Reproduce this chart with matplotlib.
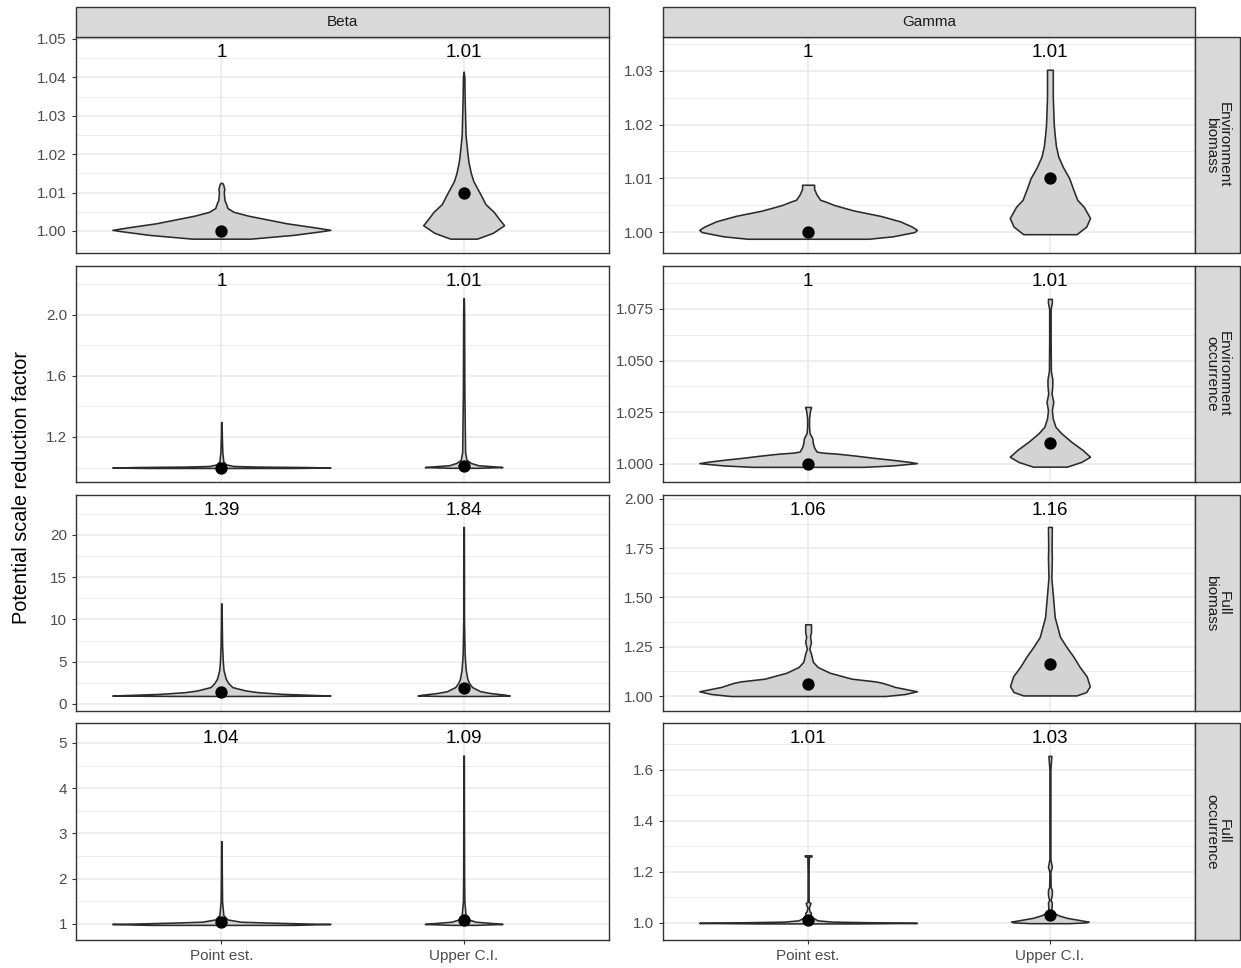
import matplotlib
matplotlib.use("Agg")
import matplotlib.pyplot as plt
import matplotlib.transforms as mtransforms
from matplotlib.patches import Rectangle

plt.rcParams['font.family'] = ['Liberation Sans', 'DejaVu Sans']

W, H = 1241, 968

columns = ["Beta", "Gamma"]
rows = ["Environment\nbiomass", "Environment\noccurrence", "Full\nbiomass", "Full\noccurrence"]
categories = ["Point est.", "Upper C.I."]

# median value (dot) and printed label per panel: [point est., upper C.I.]
beta_medians = [[1.000, 1.010], [1.00, 1.01], [1.39, 1.84], [1.04, 1.09]]
gamma_medians = [[1.000, 1.010], [1.000, 1.010], [1.06, 1.16], [1.01, 1.03]]
beta_labels = [["1", "1.01"], ["1", "1.01"], ["1.39", "1.84"], ["1.04", "1.09"]]
gamma_labels = [["1", "1.01"], ["1", "1.01"], ["1.06", "1.16"], ["1.01", "1.03"]]

# violin outlines: y levels and half-widths (category units)
beta_envbio_pt_y = [0.998, 0.999, 1.000, 1.0003, 1.001, 1.002, 1.003, 1.004, 1.005, 1.006, 1.007, 1.008, 1.010, 1.011, 1.012, 1.0125]
beta_envbio_pt_w = [0.12, 0.30, 0.42, 0.45, 0.38, 0.27, 0.19, 0.11, 0.05, 0.025, 0.02, 0.013, 0.01, 0.012, 0.008, 0.004]
beta_envbio_up_y = [0.998, 0.9995, 1.0015, 1.003, 1.005, 1.007, 1.009, 1.011, 1.013, 1.015, 1.018, 1.020, 1.025, 1.030, 1.035, 1.040, 1.0415]
beta_envbio_up_w = [0.055, 0.12, 0.167, 0.148, 0.124, 0.09, 0.074, 0.057, 0.04, 0.03, 0.02, 0.016, 0.008, 0.006, 0.004, 0.003, 0.0]

gamma_envbio_pt_y = [0.99875, 0.9992, 1.000, 1.0004, 1.001, 1.002, 1.003, 1.004, 1.005, 1.0057, 1.006, 1.007, 1.008, 1.0088]
gamma_envbio_pt_w = [0.25, 0.35, 0.44, 0.45, 0.43, 0.38, 0.30, 0.19, 0.11, 0.07, 0.05, 0.035, 0.025, 0.025]
gamma_envbio_up_y = [0.9996, 1.001, 1.0026, 1.0047, 1.006, 1.008, 1.010, 1.012, 1.014, 1.016, 1.018, 1.020, 1.025, 1.030, 1.0302]
gamma_envbio_up_w = [0.11, 0.15, 0.166, 0.14, 0.113, 0.096, 0.08, 0.055, 0.035, 0.025, 0.02, 0.016, 0.012, 0.012, 0.012]

beta_envocc_pt_y = [0.997, 1.000, 1.003, 1.006, 1.010, 1.020, 1.040, 1.100, 1.200, 1.298]
beta_envocc_pt_w = [0.30, 0.45, 0.35, 0.15, 0.05, 0.02, 0.008, 0.004, 0.002, 0.001]
beta_envocc_up_y = [0.998, 1.003, 1.008, 1.015, 1.030, 1.050, 1.100, 1.500, 2.000, 2.110]
beta_envocc_up_w = [0.06, 0.16, 0.12, 0.06, 0.03, 0.012, 0.006, 0.003, 0.002, 0.001]

gamma_envocc_pt_y = [0.9986, 0.9993, 1.0004, 1.001, 1.002, 1.003, 1.004, 1.005, 1.0055, 1.006, 1.008, 1.010, 1.012, 1.013, 1.015, 1.018, 1.022, 1.026, 1.0272, 1.0276]
gamma_envocc_pt_w = [0.23, 0.35, 0.45, 0.42, 0.35, 0.27, 0.20, 0.12, 0.06, 0.035, 0.025, 0.02, 0.018, 0.015, 0.006, 0.004, 0.004, 0.008, 0.012, 0.012]
gamma_envocc_up_y = [0.9987, 1.001, 1.0035, 1.0068, 1.0108, 1.015, 1.018, 1.022, 1.026, 1.030, 1.034, 1.038, 1.041, 1.045, 1.060, 1.075, 1.078, 1.0799]
gamma_envocc_up_w = [0.07, 0.13, 0.166, 0.135, 0.088, 0.046, 0.023, 0.012, 0.008, 0.014, 0.007, 0.01, 0.01, 0.004, 0.003, 0.003, 0.008, 0.008]

beta_fullbio_pt_y = [0.95, 1.0, 1.05, 1.2, 1.4, 1.6, 2.0, 2.5, 3.0, 4.0, 5.0, 7.0, 9.0, 11.9]
beta_fullbio_pt_w = [0.2, 0.45, 0.4, 0.25, 0.15, 0.1, 0.045, 0.028, 0.018, 0.009, 0.006, 0.003, 0.002, 0.001]
beta_fullbio_up_y = [0.95, 1.0, 1.1, 1.3, 1.5, 2.0, 2.5, 3.0, 4.0, 5.0, 6.0, 7.5, 10.0, 15.0, 20.95]
beta_fullbio_up_w = [0.1, 0.19, 0.17, 0.11, 0.07, 0.035, 0.022, 0.015, 0.009, 0.006, 0.004, 0.003, 0.0015, 0.0015, 0.001]

gamma_fullbio_pt_y = [1.000, 1.010, 1.024, 1.046, 1.066, 1.074, 1.088, 1.118, 1.147, 1.173, 1.215, 1.240, 1.274, 1.300, 1.325, 1.350, 1.364]
gamma_fullbio_pt_w = [0.32, 0.40, 0.45, 0.36, 0.31, 0.28, 0.18, 0.09, 0.04, 0.02, 0.012, 0.005, 0.012, 0.008, 0.012, 0.012, 0.012]
gamma_fullbio_up_y = [1.003, 1.02, 1.05, 1.10, 1.15, 1.20, 1.25, 1.30, 1.40, 1.50, 1.60, 1.70, 1.75, 1.858]
gamma_fullbio_up_w = [0.11, 0.15, 0.165, 0.152, 0.122, 0.097, 0.068, 0.042, 0.02, 0.013, 0.006, 0.008, 0.007, 0.008]

beta_fullocc_pt_y = [0.98, 1.0, 1.01, 1.03, 1.05, 1.1, 1.2, 1.5, 2.0, 2.83]
beta_fullocc_pt_w = [0.3, 0.45, 0.35, 0.2, 0.08, 0.025, 0.008, 0.003, 0.002, 0.001]
beta_fullocc_up_y = [0.98, 1.0, 1.02, 1.05, 1.1, 1.2, 1.5, 2.0, 3.0, 4.72]
beta_fullocc_up_w = [0.05, 0.16, 0.12, 0.05, 0.02, 0.008, 0.003, 0.002, 0.0015, 0.001]

gamma_fullocc_pt_y = [0.998, 1.0, 1.002, 1.005, 1.01, 1.02, 1.03, 1.04, 1.045, 1.06, 1.078, 1.082, 1.1, 1.2, 1.259, 1.261, 1.265]
gamma_fullocc_pt_w = [0.2, 0.45, 0.3, 0.1, 0.04, 0.02, 0.01, 0.012, 0.006, 0.003, 0.01, 0.003, 0.002, 0.002, 0.003, 0.014, 0.014]
gamma_fullocc_up_y = [0.999, 1.002, 1.005, 1.01, 1.02, 1.03, 1.04, 1.05, 1.08, 1.09, 1.11, 1.13, 1.14, 1.2, 1.22, 1.25, 1.4, 1.6, 1.655]
gamma_fullocc_up_w = [0.08, 0.15, 0.16, 0.13, 0.07, 0.035, 0.015, 0.006, 0.008, 0.003, 0.008, 0.008, 0.003, 0.002, 0.008, 0.002, 0.002, 0.002, 0.006]

# y scales (free per panel)
beta_ylims = [(0.99427, 1.0505), (0.905, 2.321), (-0.83, 24.73), (0.646, 5.44)]
gamma_ylims = [(0.9961, 1.0363), (0.99128, 1.0958), (0.924, 2.02), (0.933, 1.784)]
beta_ticks = [[1.00, 1.01, 1.02, 1.03, 1.04, 1.05], [1.2, 1.6, 2.0], [0, 5, 10, 15, 20], [1, 2, 3, 4, 5]]
beta_ticklabels = [["1.00", "1.01", "1.02", "1.03", "1.04", "1.05"], ["1.2", "1.6", "2.0"],
                   ["0", "5", "10", "15", "20"], ["1", "2", "3", "4", "5"]]
beta_minor = [[0.995, 1.005, 1.015, 1.025, 1.035, 1.045], [1.0, 1.4, 1.8, 2.2],
              [2.5, 7.5, 12.5, 17.5, 22.5], [1.5, 2.5, 3.5, 4.5]]
gamma_ticks = [[1.00, 1.01, 1.02, 1.03], [1.000, 1.025, 1.050, 1.075], [1.00, 1.25, 1.50, 1.75, 2.00], [1.0, 1.2, 1.4, 1.6]]
gamma_ticklabels = [["1.00", "1.01", "1.02", "1.03"], ["1.000", "1.025", "1.050", "1.075"],
                    ["1.00", "1.25", "1.50", "1.75", "2.00"], ["1.0", "1.2", "1.4", "1.6"]]
gamma_minor = [[1.005, 1.015, 1.025, 1.035], [1.0125, 1.0375, 1.0625, 1.0875],
               [1.125, 1.375, 1.625, 1.875], [1.1, 1.3, 1.5, 1.7]]

violins = {
    "Beta": [
        [(beta_envbio_pt_y, beta_envbio_pt_w), (beta_envbio_up_y, beta_envbio_up_w)],
        [(beta_envocc_pt_y, beta_envocc_pt_w), (beta_envocc_up_y, beta_envocc_up_w)],
        [(beta_fullbio_pt_y, beta_fullbio_pt_w), (beta_fullbio_up_y, beta_fullbio_up_w)],
        [(beta_fullocc_pt_y, beta_fullocc_pt_w), (beta_fullocc_up_y, beta_fullocc_up_w)],
    ],
    "Gamma": [
        [(gamma_envbio_pt_y, gamma_envbio_pt_w), (gamma_envbio_up_y, gamma_envbio_up_w)],
        [(gamma_envocc_pt_y, gamma_envocc_pt_w), (gamma_envocc_up_y, gamma_envocc_up_w)],
        [(gamma_fullbio_pt_y, gamma_fullbio_pt_w), (gamma_fullbio_up_y, gamma_fullbio_up_w)],
        [(gamma_fullocc_pt_y, gamma_fullocc_pt_w), (gamma_fullocc_up_y, gamma_fullocc_up_w)],
    ],
}
settings = {
    "Beta": (beta_medians, beta_labels, beta_ylims, beta_ticks, beta_ticklabels, beta_minor),
    "Gamma": (gamma_medians, gamma_labels, gamma_ylims, gamma_ticks, gamma_ticklabels, gamma_minor),
}

# panel pixel boxes
col_x = [(76, 609), (663, 1195)]
row_y = [(37, 253), (266, 482), (495, 711), (723, 940)]


def frect(x0, y0, x1, y1):
    return [x0 / W, 1 - y1 / H, (x1 - x0) / W, (y1 - y0) / H]


fig = plt.figure(figsize=(W / 100, H / 100), dpi=100)
border = "#333333"

for ci, col in enumerate(columns):
    medians, labels, ylims, ticks, ticklabels, minor = settings[col]
    for ri in range(len(rows)):
        x0, x1 = col_x[ci]
        y0, y1 = row_y[ri]
        ax = fig.add_axes(frect(x0, y0, x1, y1))
        ax.set_xlim(0.4, 2.6)
        ax.set_ylim(*ylims[ri])
        ax.set_axisbelow(True)
        ax.set_yticks(ticks[ri])
        ax.set_yticklabels(ticklabels[ri])
        ax.set_yticks(minor[ri], minor=True)
        ax.set_xticks([1, 2])
        ax.grid(which="major", color="#EBEBEB", lw=1.2)
        ax.grid(which="minor", axis="y", color="#EBEBEB", lw=0.7)
        ax.tick_params(which="minor", length=0)
        ax.tick_params(axis="y", colors=border, labelcolor="#4D4D4D", labelsize=11, length=3, width=0.8)
        if ri == len(rows) - 1:
            ax.set_xticklabels(categories)
            ax.tick_params(axis="x", colors=border, labelcolor="#4D4D4D", labelsize=11, length=3, width=0.8)
        else:
            ax.tick_params(axis="x", length=0, labelbottom=False)
        for s in ax.spines.values():
            s.set_color(border)
            s.set_linewidth(1.0)

        trans = mtransforms.blended_transform_factory(ax.transData, ax.transAxes)
        for k, (vy, vw) in enumerate(violins[col][ri]):
            c = k + 1
            left = [c - w for w in vw]
            right = [c + w for w in vw]
            ax.fill_betweenx(vy, left, right, facecolor="#D3D3D3", edgecolor="#2B2B2B", lw=1.15, zorder=2)
            ax.scatter([c], [medians[ri][k]], s=62, color="black", zorder=3)
            ax.text(c, 0.93, labels[ri][k], transform=trans, ha="center", va="center", fontsize=13.5, color="black")

# top strips
for ci, col in enumerate(columns):
    x0, x1 = col_x[ci]
    r = frect(x0, 7, x1, 37)
    fig.patches.append(Rectangle((r[0], r[1]), r[2], r[3], transform=fig.transFigure,
                                 facecolor="#D9D9D9", edgecolor=border, lw=1.0))
    fig.text(r[0] + r[2] / 2, r[1] + r[3] / 2, col, ha="center", va="center", fontsize=11, color="#1A1A1A")

# right strips
for ri, name in enumerate(rows):
    y0, y1 = row_y[ri]
    r = frect(1195, y0, 1240, y1)
    fig.patches.append(Rectangle((r[0], r[1]), r[2], r[3], transform=fig.transFigure,
                                 facecolor="#D9D9D9", edgecolor=border, lw=1.0))
    fig.text(r[0] + r[2] / 2, r[1] + r[3] / 2, name, ha="center", va="center", rotation=270,
             fontsize=11, color="#1A1A1A", linespacing=0.9)

fig.text(22 / W, 1 - 487 / H, "Potential scale reduction factor", rotation=90,
         ha="center", va="center", fontsize=14.3, color="black")

fig.savefig("out.png", dpi=100, facecolor="white")
plt.close(fig)
